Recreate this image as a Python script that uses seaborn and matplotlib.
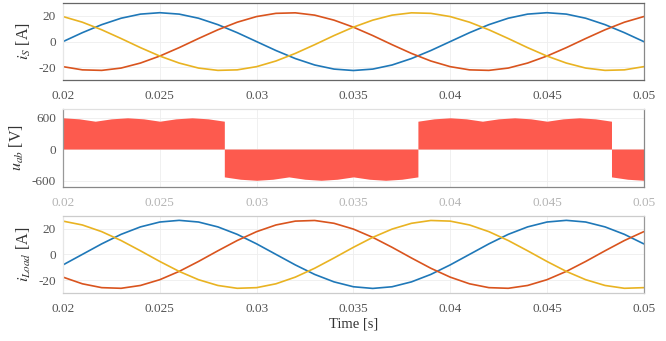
import numpy as np
import pandas as pd
import matplotlib
matplotlib.use("Agg")
import matplotlib.pyplot as plt
import seaborn as sns

# ---------------- data ----------------
time_s = [0.020, 0.021, 0.022, 0.023, 0.024, 0.025, 0.026, 0.027, 0.028, 0.029,
          0.030, 0.031, 0.032, 0.033, 0.034, 0.035, 0.036, 0.037, 0.038, 0.039,
          0.040, 0.041, 0.042, 0.043, 0.044, 0.045, 0.046, 0.047, 0.048, 0.049,
          0.050]

iS_a = [0, 6.95, 13.2, 18.2, 21.4, 22.5, 21.4, 18.2, 13.2, 6.95,
        0, -6.95, -13.2, -18.2, -21.4, -22.5, -21.4, -18.2, -13.2, -6.95,
        0, 6.95, 13.2, 18.2, 21.4, 22.5, 21.4, 18.2, 13.2, 6.95, 0]
iS_b = [-19.5, -22.0, -22.4, -20.6, -16.7, -11.25, -4.7, 2.4, 9.2, 15.1,
        19.5, 22.0, 22.4, 20.6, 16.7, 11.25, 4.7, -2.4, -9.2, -15.1,
        -19.5, -22.0, -22.4, -20.6, -16.7, -11.25, -4.7, 2.4, 9.2, 15.1, 19.5]
iS_c = [19.5, 15.1, 9.2, 2.4, -4.7, -11.25, -16.7, -20.6, -22.4, -22.0,
        -19.5, -15.1, -9.2, -2.4, 4.7, 11.25, 16.7, 20.6, 22.4, 22.0,
        19.5, 15.1, 9.2, 2.4, -4.7, -11.25, -16.7, -20.6, -22.4, -22.0, -19.5]

iL_a = [-8.2, 0, 8.2, 15.6, 21.4, 25.2, 26.5, 25.2, 21.4, 15.6,
        8.2, 0, -8.2, -15.6, -21.4, -25.2, -26.5, -25.2, -21.4, -15.6,
        -8.2, 0, 8.2, 15.6, 21.4, 25.2, 26.5, 25.2, 21.4, 15.6, 8.2]
iL_b = [-17.7, -22.9, -25.9, -26.4, -24.2, -19.7, -13.25, -5.5, 2.8, 10.8,
        17.7, 22.9, 25.9, 26.4, 24.2, 19.7, 13.25, 5.5, -2.8, -10.8,
        -17.7, -22.9, -25.9, -26.4, -24.2, -19.7, -13.25, -5.5, 2.8, 10.8, 17.7]
iL_c = [25.9, 22.9, 17.7, 10.8, 2.8, -5.5, -13.25, -19.7, -24.2, -26.4,
        -25.9, -22.9, -17.7, -10.8, -2.8, 5.5, 13.25, 19.7, 24.2, 26.4,
        25.9, 22.9, 17.7, 10.8, 2.8, -5.5, -13.25, -19.7, -24.2, -26.4, -25.9]

# u_ab envelope magnitude, sampled every 1/1200 s from 0.02 s to 0.05 s
u_time = [0.02 + k / 1200 for k in range(37)]
u_mag = [595, 575, 530, 575, 595, 575, 530, 575, 595, 575,
         530, 575, 595, 575, 530, 575, 595, 575, 530, 575,
         595, 575, 530, 575, 595, 575, 530, 575, 595, 575,
         530, 575, 595, 575, 530, 575, 595]
# polarity segments (switching instants)
u_edges = [0.02, 0.028333, 0.038333, 0.048333, 0.05]
u_signs = [1, -1, 1, -1]

xticks = [0.02, 0.025, 0.03, 0.035, 0.04, 0.045, 0.05]
xticklabels = ["0.02", "0.025", "0.03", "0.035", "0.04", "0.045", "0.05"]

# ---------------- style ----------------
sns.set_theme(style="white")
plt.rcParams["font.family"] = ["Liberation Serif", "DejaVu Serif"]
plt.rcParams["mathtext.fontset"] = "stix"
plt.rcParams["axes.unicode_minus"] = False

C_BLUE = "#1f78b8"
C_RED = "#d9541e"
C_YEL = "#e9b322"
C_FILL = "#fd5a4e"
TICK_COL = "#555555"

fig = plt.figure(figsize=(6.66, 3.41), dpi=100)
ax1 = fig.add_axes([0.0946, 0.765, 0.872, 0.226])
ax2 = fig.add_axes([0.0946, 0.452, 0.872, 0.228])
ax3 = fig.add_axes([0.0946, 0.141, 0.872, 0.226])

df_s = pd.DataFrame({"t": time_s, "a": iS_a, "b": iS_b, "c": iS_c})
df_l = pd.DataFrame({"t": time_s, "a": iL_a, "b": iL_b, "c": iL_c})

for ax, df in ((ax1, df_s), (ax3, df_l)):
    sns.lineplot(data=df, x="t", y="a", ax=ax, color=C_BLUE, lw=1.2)
    sns.lineplot(data=df, x="t", y="b", ax=ax, color=C_RED, lw=1.2)
    sns.lineplot(data=df, x="t", y="c", ax=ax, color=C_YEL, lw=1.2)
    ax.set_ylim(-30, 30)
    ax.set_yticks([-20, 0, 20])
    ax.set_yticklabels(["-20", "0", "20"])

# u_ab fill
ut = np.array(u_time)
um = np.array(u_mag, dtype=float)
for i, sgn in enumerate(u_signs):
    lo, hi = u_edges[i], u_edges[i + 1]
    m = (ut >= lo - 1e-6) & (ut <= hi + 1e-6)
    ax2.fill_between(ut[m], 0, sgn * um[m], color=C_FILL, lw=0, zorder=2)
ax2.set_ylim(-720, 760)
ax2.set_yticks([-600, 0, 600])
ax2.set_yticklabels(["-600", "0", "600"])

for ax in (ax1, ax2, ax3):
    ax.set_xlim(0.02, 0.05)
    ax.set_xticks(xticks)
    ax.set_xticklabels(xticklabels)
    ax.tick_params(axis="both", length=0, labelsize=9.5, colors=TICK_COL)
    ax.tick_params(axis="x", pad=7)
    ax.tick_params(axis="y", pad=5)
    ax.grid(True, color="#eeeeee", lw=0.6, zorder=0)
    ax.set_axisbelow(True)
    ax.set_xlabel("")
    for s in ax.spines.values():
        s.set_linewidth(0.9)

# middle panel's x tick labels are faded in the reference
ax2.tick_params(axis="x", colors="#b5b5b5")

ax1.spines["top"].set_color("#666666")
ax1.spines["bottom"].set_color("#666666")
ax1.spines["left"].set_color("#e6e6e6")
ax1.spines["right"].set_color("#888888")

ax2.spines["top"].set_color("#e0e0e0")
ax2.spines["bottom"].set_color("#888888")
ax2.spines["left"].set_color("#999999")
ax2.spines["right"].set_color("#888888")

ax3.spines["top"].set_color("#cccccc")
ax3.spines["bottom"].set_color("#cccccc")
ax3.spines["left"].set_color("#e6e6e6")
ax3.spines["right"].set_color("#999999")

ax1.set_ylabel("$i_S$ [A]", fontsize=11.5, color="#333333", labelpad=4)
ax2.set_ylabel("$u_{ab}$ [V]", fontsize=11.5, color="#333333", labelpad=4)
ax3.set_ylabel("$i_{Load}$ [A]", fontsize=11.5, color="#333333", labelpad=4)
ax3.set_xlabel("Time [s]", fontsize=10.5, color="#333333", labelpad=2)

fig.savefig("out.png", dpi=100, facecolor="white")
